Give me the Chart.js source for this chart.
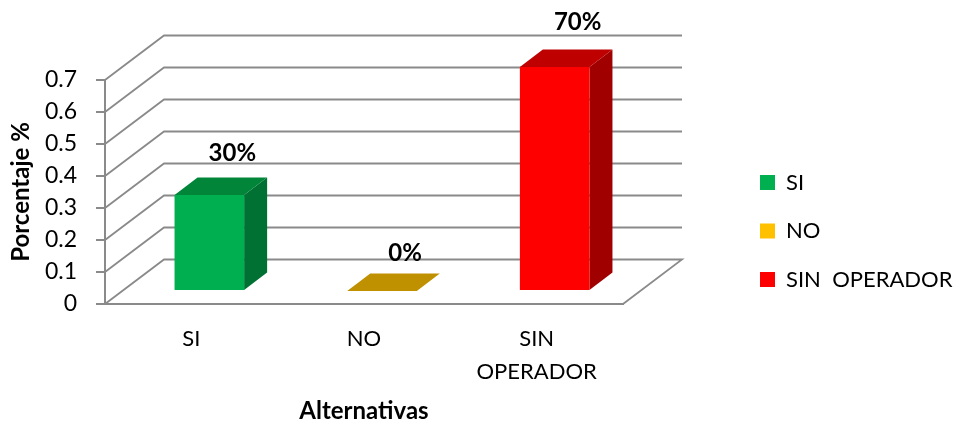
<html lang="es">
    <head>
        <meta charset="UTF-8">
        <title>Porcentaje por alternativa</title>
        <script src="https://cdn.jsdelivr.net/npm/chart.js"></script>
        <style>
            body {
                margin: 0;
                padding: 0;
                background-color: white;
            }
            canvas {
                display: block;
            }
        </style>
    </head>

    <body>
        <canvas id="barChart" width="955" height="423"></canvas>

        <script>
            const categories = ['SI', 'NO', 'SIN  OPERADOR'];
            const tickLabels = ['SI', 'NO', ['SIN', 'OPERADOR']];
            const values = [0.3, 0, 0.7];
            const valueLabels = ['30%', '0%', '70%'];
            const yTicks = [0, 0.1, 0.2, 0.3, 0.4, 0.5, 0.6, 0.7];

            const frontColors = ['#00B050', '#FFC000', '#FF0000'];
            const sideColors = ['#007033', '#A37B00', '#A00000'];
            const topColors = ['#008539', '#BF9000', '#BF0000'];

            const fontFamily = 'Lato, sans-serif';
            const lineColor = '#8A8A8A';

            // depth of the box the chart sits in
            const wallX = 59;
            const wallY = -44.5;
            // bars stand a bit behind the front edge of the floor, and have their own depth
            const barShiftX = 18;
            const barShiftY = -13;
            const barDepthX = 23;
            const barDepthY = -17.5;
            const labelGap = [24, 20, 27];

            function polygon(ctx, points, color) {
                ctx.fillStyle = color;
                ctx.beginPath();
                points.forEach((p, i) => i ? ctx.lineTo(p[0], p[1]) : ctx.moveTo(p[0], p[1]));
                ctx.closePath();
                ctx.fill();
            }

            const box3d = {
                id: 'box3d',
                afterLayout(chart) {
                    // legend clips to its own box, let the long label run to the canvas edge
                    chart.legend.right = chart.width;
                },
                beforeDatasetsDraw(chart) {
                    const { ctx, chartArea, scales } = chart;

                    // walls: one bent line for each tick, plus the floor edge
                    ctx.save();
                    ctx.strokeStyle = lineColor;
                    ctx.lineWidth = 1.8;
                    yTicks.forEach(v => {
                        const y = scales.y.getPixelForValue(v);
                        ctx.beginPath();
                        ctx.moveTo(chartArea.left, y);
                        ctx.lineTo(chartArea.left + wallX, y + wallY);
                        ctx.lineTo(chartArea.right + wallX, y + wallY);
                        if (v === 0) {
                            ctx.lineTo(chartArea.right, y);
                        }
                        ctx.stroke();
                    });
                    ctx.restore();

                    // the library draws the front faces inside this shift
                    ctx.save();
                    ctx.translate(barShiftX, barShiftY);
                    chart.getDatasetMeta(0).data.forEach((bar, i) => {
                        const l = bar.x - bar.width / 2;
                        const r = bar.x + bar.width / 2;
                        polygon(ctx, [[r, bar.y], [r + barDepthX, bar.y + barDepthY],
                            [r + barDepthX, bar.base + barDepthY], [r, bar.base]], sideColors[i]);
                        polygon(ctx, [[l, bar.y], [l + barDepthX, bar.y + barDepthY],
                            [r + barDepthX, bar.y + barDepthY], [r, bar.y]], topColors[i]);
                    });
                },
                afterDatasetsDraw(chart) {
                    const { ctx } = chart;
                    ctx.restore();

                    ctx.save();
                    ctx.fillStyle = '#000';
                    ctx.font = 'bold 24px ' + fontFamily;
                    ctx.textAlign = 'center';
                    ctx.textBaseline = 'middle';
                    chart.getDatasetMeta(0).data.forEach((bar, i) => {
                        const x = bar.x + barShiftX + barDepthX;
                        const y = bar.y + barShiftY + barDepthY - labelGap[i];
                        ctx.fillText(valueLabels[i], x, y);
                    });
                    ctx.restore();
                }
            };

            new Chart(document.getElementById('barChart').getContext('2d'), {
                type: 'bar',
                data: {
                    labels: tickLabels,
                    datasets: [{
                        data: values,
                        backgroundColor: frontColors,
                        categoryPercentage: 1,
                        barPercentage: 0.403,
                        clip: false
                    }]
                },
                options: {
                    responsive: false,
                    animation: false,
                    layout: {
                        padding: { top: 39, bottom: 0, left: 0, right: 74.8 }
                    },
                    scales: {
                        x: {
                            grid: { display: false },
                            border: { color: lineColor, width: 2 },
                            ticks: {
                                autoSkip: false,
                                maxRotation: 0,
                                padding: 10,
                                color: '#000',
                                font: { family: fontFamily, size: 22, lineHeight: 1.5 }
                            },
                            title: {
                                display: true,
                                text: 'Alternativas',
                                color: '#000',
                                padding: 0,
                                font: { family: fontFamily, size: 24, weight: 'bold', lineHeight: 1 }
                            },
                            afterFit(scale) { scale.height = 119; }
                        },
                        // only keeps room above the plot
                        xTop: {
                            type: 'category',
                            position: 'top',
                            grid: { display: false },
                            border: { display: false },
                            ticks: { display: false },
                            afterFit(scale) { scale.height = 41; }
                        },
                        y: {
                            min: 0,
                            max: 0.7,
                            grid: {
                                drawOnChartArea: false,
                                color: lineColor,
                                lineWidth: 2,
                                tickLength: 9
                            },
                            border: { color: lineColor, width: 2 },
                            ticks: {
                                stepSize: 0.1,
                                autoSkip: false,
                                padding: 19,
                                color: '#000',
                                font: { family: fontFamily, size: 23 }
                            },
                            title: {
                                display: true,
                                text: 'Porcentaje %',
                                color: '#000',
                                padding: { top: 7, bottom: 0 },
                                font: { family: fontFamily, size: 24, weight: 'bold' }
                            },
                            afterFit(scale) { scale.width = 105; }
                        },
                        // only keeps room between the plot and the legend
                        yGap: {
                            position: 'right',
                            grid: { display: false },
                            border: { display: false },
                            ticks: { display: false },
                            afterFit(scale) { scale.width = 110.5; }
                        }
                    },
                    plugins: {
                        tooltip: { enabled: false },
                        legend: {
                            position: 'right',
                            labels: {
                                boxWidth: 15,
                                boxHeight: 15,
                                padding: 26.5,
                                color: '#000',
                                font: { family: fontFamily, size: 22 },
                                generateLabels() {
                                    return categories.map((name, i) => ({
                                        text: name,
                                        fillStyle: frontColors[i],
                                        strokeStyle: frontColors[i],
                                        lineWidth: 0,
                                        index: i
                                    }));
                                }
                            }
                        }
                    }
                },
                plugins: [box3d]
            });
        </script>
    </body>
</html>
